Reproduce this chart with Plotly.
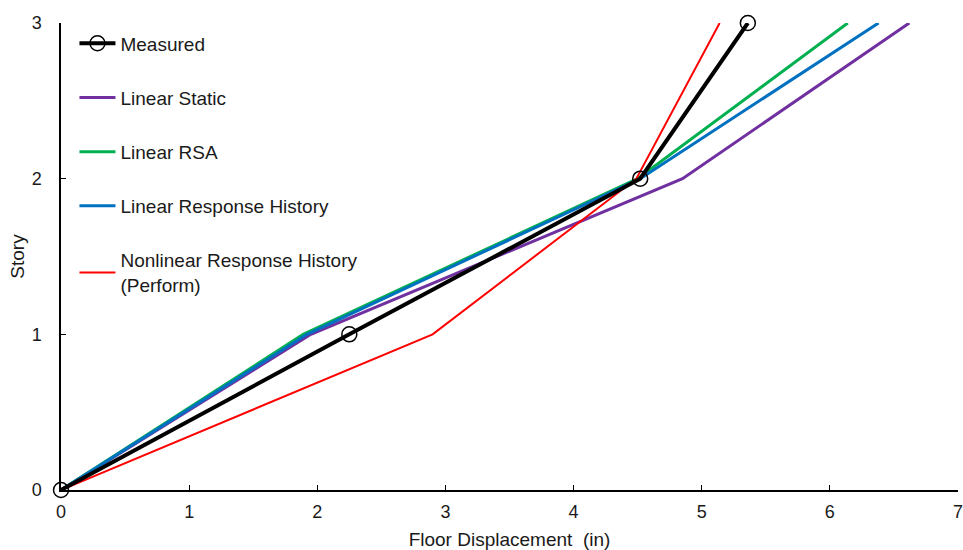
import plotly.graph_objects as go

stories = [0, 1, 2, 3]

measured = [0, 2.25, 4.52, 5.36]
linear_static = [0, 1.95, 4.85, 6.62]
linear_rsa = [0, 1.89, 4.50, 6.14]
linear_rh = [0, 1.92, 4.52, 6.38]
nonlinear_rh = [0, 2.90, 4.49, 5.14]

series = [
    ("Linear Static", linear_static, "#7030A0", 3),
    ("Linear RSA", linear_rsa, "#00B050", 3),
    ("Linear Response History", linear_rh, "#0070C0", 3),
    ("Nonlinear Response History<br>(Perform)", nonlinear_rh, "#FF0000", 2),
]

fig = go.Figure()

for i, (name, xs, color, w) in enumerate(series):
    fig.add_trace(go.Scatter(
        x=xs, y=stories, mode="lines", name=name,
        line=dict(color=color, width=w),
        legendgroup=f"g{i+1}", legendrank=i + 2,
    ))

# Measured profile drawn last so it sits on top; markers stay whole at the axis ends
fig.add_trace(go.Scatter(
    x=measured, y=stories, mode="lines+markers", name="Measured",
    line=dict(color="black", width=4),
    marker=dict(symbol="circle-open", size=15, color="black", line=dict(width=1.5)),
    legendgroup="g0", legendrank=1, cliponaxis=False,
))

font = dict(family="Liberation Sans, Arial, sans-serif", size=19, color="#1a1a1a")
tick_font = dict(family="Liberation Sans, Arial, sans-serif", size=18, color="#1a1a1a")

fig.update_layout(
    width=963, height=550,
    margin=dict(l=61, r=5, t=23, b=60),
    paper_bgcolor="white", plot_bgcolor="white",
    font=font,
    showlegend=True,
    legend=dict(
        x=0.015, y=0.997, xanchor="left", yanchor="top",
        bgcolor="rgba(0,0,0,0)", font=font,
        traceorder="grouped", tracegroupgap=26.5,
        itemwidth=36,
    ),
    xaxis=dict(
        range=[0, 7], dtick=1, showgrid=False, zeroline=False,
        showline=True, linecolor="black", linewidth=1.5,
        ticks="inside", ticklen=5, tickcolor="black",
        ticklabeloverflow="allow", ticklabelstandoff=5,
        automargin=False,
        title=dict(text="Floor Displacement  (in)", standoff=12, font=font),
        tickfont=tick_font,
    ),
    yaxis=dict(
        range=[0, 3], dtick=1, showgrid=False, zeroline=False,
        showline=True, linecolor="black", linewidth=1.5,
        ticks="inside", ticklen=5, tickcolor="black",
        ticklabelstandoff=14, automargin=False,
        title=dict(text="Story", standoff=2, font=font),
        tickfont=tick_font,
    ),
)

fig.write_html("out.html")
